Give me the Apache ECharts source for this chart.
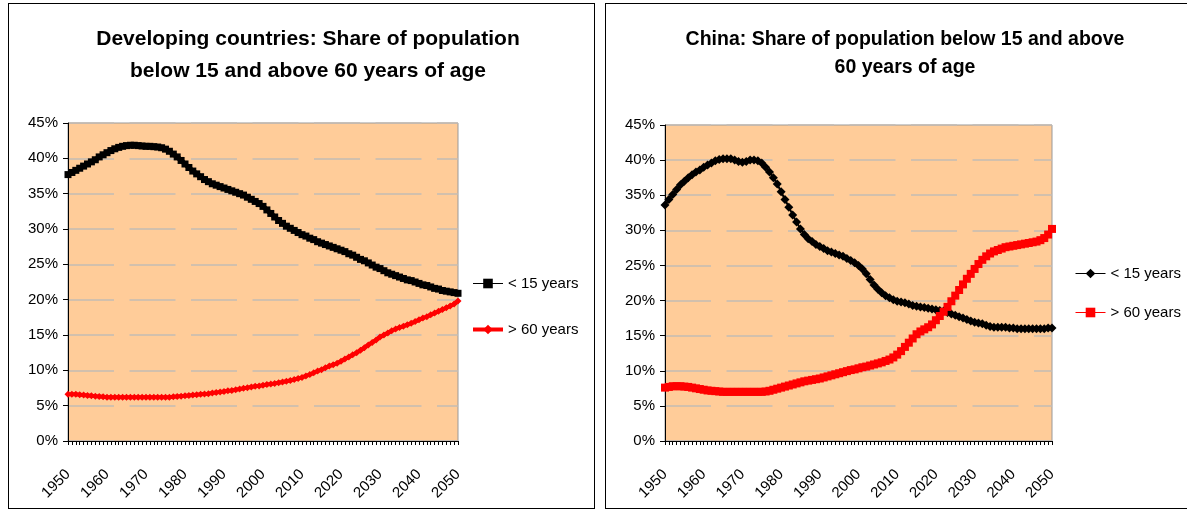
<!DOCTYPE html>
<html>
<head>
<meta charset="utf-8">
<script src="https://cdn.jsdelivr.net/npm/echarts@6/dist/echarts.min.js"></script>
<style>
  html, body { margin: 0; padding: 0; background: #fff; }
  .panel { position: absolute; top: 0; height: 514px; }
  .frame { position: absolute; top: 3px; height: 506px; border: 1.5px solid #000; box-sizing: border-box; pointer-events: none; }
</style>
</head>
<body>
<div class="frame" style="left:8px;width:587px;"></div>
<div class="frame" style="left:605px;width:600px;"></div>
<div id="devChart" class="panel" style="left:0;width:597px;"></div>
<div id="chinaChart" class="panel" style="left:597px;width:590px;"></div>
<script>
// years 1950 - 2050
var years = [];
for (var y = 1950; y <= 2050; y++) years.push(String(y));

// Developing countries, share of population (%)
var devBelow15 = [
  37.7, 38.0, 38.3, 38.6, 38.9, 39.2, 39.5, 39.8, 40.2, 40.5,
  40.8, 41.1, 41.35, 41.55, 41.7, 41.8, 41.85, 41.85, 41.8, 41.75,
  41.7, 41.7, 41.65, 41.6, 41.5, 41.3, 41.0, 40.6, 40.2, 39.7,
  39.2, 38.7, 38.2, 37.8, 37.4, 37.0, 36.7, 36.4, 36.2, 36.0,
  35.8, 35.6, 35.4, 35.2, 35.0, 34.8, 34.5, 34.2, 33.9, 33.6,
  33.2, 32.7, 32.2, 31.7, 31.2, 30.8, 30.4, 30.1, 29.8, 29.5,
  29.2, 29.0, 28.7, 28.5, 28.2, 28.0, 27.8, 27.6, 27.4, 27.2,
  27.0, 26.8, 26.5, 26.3, 26.0, 25.7, 25.5, 25.2, 24.9, 24.6,
  24.4, 24.1, 23.8, 23.6, 23.4, 23.2, 23.0, 22.8, 22.7, 22.5,
  22.3, 22.1, 22.0, 21.8, 21.6, 21.5, 21.3, 21.2, 21.1, 21.0,
  20.9
];
var devAbove60 = [
  6.6, 6.6, 6.6, 6.55, 6.5, 6.45, 6.4, 6.35, 6.3, 6.25,
  6.2, 6.2, 6.2, 6.2, 6.2, 6.2, 6.2, 6.2, 6.2, 6.2,
  6.2, 6.2, 6.2, 6.2, 6.2, 6.2, 6.2, 6.25, 6.3, 6.35,
  6.4, 6.45, 6.5, 6.55, 6.6, 6.65, 6.7, 6.8, 6.85, 6.95,
  7.0, 7.1, 7.15, 7.25, 7.35, 7.45, 7.55, 7.65, 7.75, 7.8,
  7.9, 8.0, 8.05, 8.15, 8.25, 8.35, 8.45, 8.55, 8.7, 8.85,
  9.0, 9.2, 9.4, 9.65, 9.9, 10.1, 10.35, 10.6, 10.8, 11.0,
  11.3, 11.6, 11.9, 12.2, 12.5, 12.85, 13.2, 13.6, 13.95, 14.3,
  14.7, 15.0, 15.3, 15.6, 15.85, 16.05, 16.25, 16.45, 16.65, 16.9,
  17.15, 17.4, 17.6, 17.85, 18.1, 18.35, 18.6, 18.85, 19.1, 19.4,
  19.8
];

// China, share of population (%)
var chinaBelow15 = [
  33.6, 34.4, 35.1, 35.8, 36.5, 37.0, 37.5, 37.9, 38.3, 38.6,
  39.0, 39.3, 39.6, 39.9, 40.1, 40.2, 40.2, 40.2, 40.0, 39.8,
  39.7, 39.8, 40.0, 40.0, 39.9, 39.6, 39.0, 38.3, 37.5, 36.6,
  35.5, 34.4, 33.3, 32.2, 31.2, 30.2, 29.4, 28.8, 28.4, 28.0,
  27.7, 27.4, 27.1, 26.9, 26.7, 26.5, 26.3, 26.0, 25.7, 25.4,
  25.0, 24.5, 23.8, 23.0, 22.2, 21.6, 21.1, 20.7, 20.4, 20.1,
  19.9, 19.8, 19.7, 19.5, 19.3, 19.2, 19.1, 19.0, 18.9, 18.8,
  18.7, 18.6, 18.5, 18.3, 18.1, 17.9, 17.7, 17.5, 17.3, 17.1,
  16.9, 16.8, 16.7, 16.5, 16.3, 16.2, 16.2, 16.2, 16.2, 16.1,
  16.1, 16.0, 16.0, 16.0, 16.0, 16.0, 16.0, 16.0, 16.0, 16.1,
  16.1
];
var chinaAbove60 = [
  7.6, 7.7, 7.8, 7.8, 7.8, 7.75, 7.7, 7.6, 7.5, 7.4,
  7.3, 7.2, 7.15, 7.1, 7.05, 7.0, 7.0, 7.0, 7.0, 7.0,
  7.0, 7.0, 7.0, 7.0, 7.0, 7.0, 7.05, 7.15, 7.3, 7.45,
  7.6, 7.75, 7.9, 8.05, 8.2, 8.35, 8.5, 8.6, 8.7, 8.8,
  8.9, 9.05, 9.2, 9.35, 9.5, 9.65, 9.8, 9.95, 10.1, 10.2,
  10.35, 10.5, 10.6, 10.75, 10.9, 11.05, 11.2, 11.4, 11.6, 11.9,
  12.3, 12.8, 13.4, 14.0, 14.6, 15.2, 15.6, 15.9, 16.2, 16.6,
  17.2, 17.8, 18.4, 19.1, 19.9, 20.7, 21.5, 22.3, 23.1, 23.8,
  24.5, 25.2, 25.8, 26.3, 26.7, 27.0, 27.2, 27.4, 27.6, 27.7,
  27.8, 27.9, 28.0, 28.1, 28.2, 28.3, 28.4, 28.6, 28.9, 29.4,
  30.2
];

var FONT = "'Liberation Sans', Arial, sans-serif";

function makeOption(cfg) {
  return {
    animation: false,
    textStyle: { fontFamily: FONT },
    title: {
      text: cfg.title,
      left: cfg.titleX,
      top: cfg.titleTop,
      textAlign: "center",
      textStyle: { fontSize: cfg.titleSize, fontWeight: "bold", color: "#000", lineHeight: cfg.titleLH, fontFamily: FONT }
    },
    legend: {
      orient: "vertical",
      left: cfg.legendX,
      top: cfg.legendY,
      itemGap: cfg.legendGap,
      itemWidth: 30,
      itemHeight: 12,
      textStyle: { fontSize: 15, color: "#000", fontFamily: FONT },
      data: cfg.legendData
    },
    grid: {
      left: 68, top: cfg.gridTop, width: cfg.gridW, height: cfg.gridH,
      show: true, backgroundColor: "#FFCC99", borderColor: "#999", borderWidth: 1
    },
    xAxis: {
      type: "category",
      data: years,
      boundaryGap: false,
      axisLine: { lineStyle: { color: "#000", width: 1 } },
      axisTick: { show: true, interval: 0, length: 4, lineStyle: { color: "#000" } },
      axisLabel: { interval: 9, rotate: 45, margin: 31, fontSize: 15, color: "#000", fontFamily: FONT },
      splitLine: { show: false }
    },
    yAxis: {
      type: "value",
      min: 0, max: 45, interval: 5,
      axisLine: { show: true, lineStyle: { color: "#000", width: 1 } },
      axisTick: { show: true, length: 5, lineStyle: { color: "#000" } },
      axisLabel: { formatter: "{value}%", fontSize: 15, color: "#000", margin: 10, fontFamily: FONT },
      splitLine: { lineStyle: { color: "#C4BCB4", width: 1.5, type: [46, 15.5] } }
    },
    series: cfg.series
  };
}

var devChart = echarts.init(document.getElementById("devChart"));
devChart.setOption(makeOption({
  title: "Developing countries: Share of population\nbelow 15 and above 60 years of age",
  titleX: 303, titleTop: 18, titleSize: 21, titleLH: 32,
  legendX: 466, legendY: 271, legendGap: 31,
  legendData: [
    { name: "< 15 years", lineStyle: { width: 1 } },
    { name: "> 60 years", lineStyle: { width: 4 } }
  ],
  gridTop: 123, gridW: 390, gridH: 318,
  series: [
    {
      name: "< 15 years", type: "line", data: devBelow15,
      color: "#000", symbol: "rect", symbolSize: 7, showAllSymbol: true,
      lineStyle: { width: 5, color: "#000" }, itemStyle: { color: "#000" }
    },
    {
      name: "> 60 years", type: "line", data: devAbove60,
      color: "#FF0000", symbol: "diamond", symbolSize: 7, showAllSymbol: true,
      lineStyle: { width: 4, color: "#FF0000" }, itemStyle: { color: "#FF0000" }
    }
  ]
}));

var chinaChart = echarts.init(document.getElementById("chinaChart"));
chinaChart.setOption(makeOption({
  title: "China: Share of population below 15 and above\n60 years of age",
  titleX: 303, titleTop: 21, titleSize: 19.5, titleLH: 28,
  legendX: 473, legendY: 261, legendGap: 24,
  legendData: [
    { name: "< 15 years", lineStyle: { width: 1 } },
    { name: "> 60 years", lineStyle: { width: 1 } }
  ],
  gridTop: 125, gridW: 387, gridH: 316,
  series: [
    {
      name: "< 15 years", type: "line", data: chinaBelow15,
      color: "#000", symbol: "diamond", symbolSize: 9, showAllSymbol: true,
      lineStyle: { width: 2, color: "#000" }, itemStyle: { color: "#000" }
    },
    {
      name: "> 60 years", type: "line", data: chinaAbove60,
      color: "#FF0000", symbol: "rect", symbolSize: 8, showAllSymbol: true,
      lineStyle: { width: 2, color: "#FF0000" }, itemStyle: { color: "#FF0000" }
    }
  ]
}));
</script>
</body>
</html>
